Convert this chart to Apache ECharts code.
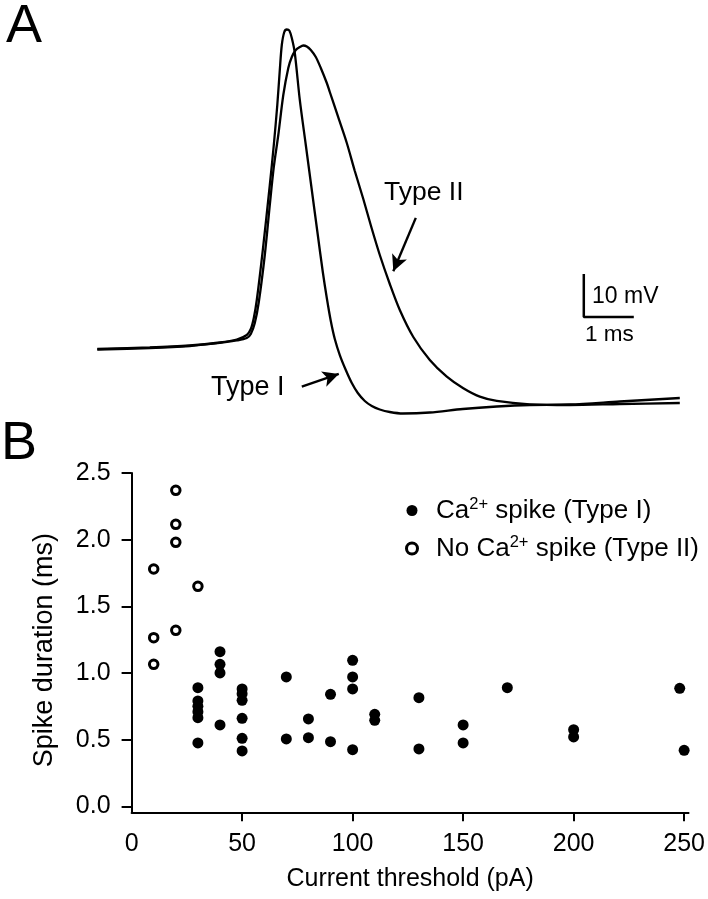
<!DOCTYPE html>
<html><head><meta charset="utf-8">
<script src="https://cdn.jsdelivr.net/npm/echarts@6/dist/echarts.min.js"></script>
<style>html,body{margin:0;padding:0;background:#fff}#c{width:708px;height:899px}</style>
</head><body><div id="c"></div>
<script>
// ---------- Panel A: spike waveforms (time in ms, membrane potential in mV) ----------
const typeITime = [0.00,1.05,1.85,2.45,2.79,2.99,3.07,3.13,3.19,3.31,3.45,3.53,3.60,3.65,3.69,3.74,3.79,3.84,3.89,3.95,4.05,4.17,4.29,4.41,4.51,4.59,4.67,4.75,4.85,4.97,5.09,5.21,5.35,5.49,5.65,5.85,6.11,6.65,7.31,7.99,8.65,9.45,10.45,11.65];
const typeIVolt = [-60.00,-59.65,-59.19,-58.49,-57.79,-56.74,-55.35,-52.79,-48.60,-36.98,-21.86,-12.56,-3.26,4.88,10.70,13.72,14.30,14.07,12.33,8.84,-2.09,-12.56,-23.02,-33.49,-42.09,-48.14,-53.49,-57.67,-61.40,-64.88,-67.91,-70.23,-72.09,-73.26,-74.07,-74.65,-75.00,-74.77,-73.95,-73.37,-73.02,-72.91,-72.21,-71.40];
const typeIITime = [0.00,1.05,1.85,2.45,2.79,2.99,3.07,3.15,3.23,3.35,3.45,3.53,3.62,3.72,3.82,3.89,3.97,4.05,4.12,4.19,4.27,4.37,4.47,4.59,4.65,4.81,4.99,5.15,5.32,5.48,5.65,5.85,6.05,6.32,6.65,6.99,7.32,7.65,7.99,8.65,9.45,10.45,11.65];
const typeIIVolt = [-60.12,-59.77,-59.30,-58.60,-58.02,-57.44,-56.51,-53.95,-49.07,-38.14,-26.51,-17.67,-10.23,-0.93,5.35,7.91,9.53,10.23,10.58,10.35,9.53,7.91,5.35,1.86,-0.23,-5.81,-12.09,-18.60,-25.12,-31.63,-38.14,-44.88,-50.93,-57.21,-62.56,-66.44,-69.14,-71.09,-72.09,-72.86,-73.02,-72.79,-72.56];
const scaleBarOrigin = [9.73, -52.56]; // ms, mV
const scaleBarMs = 1;
const scaleBarMv = 10;
const arrowTypeII = [[6.37, -29.5], [5.92, -41.9]];
const arrowTypeI = [[4.09, -68.77], [4.83, -65.81]];

// ---------- Panel B: spike duration vs current threshold ----------
const typeIThreshold = [30,30,30,30,30,30, 40,40,40,40, 50,50,50,50,50,50, 70,70, 80,80, 90,90, 100,100,100,100, 110,110, 130,130, 150,150, 170, 200,200, 248, 250];
const typeIDuration  = [0.89,0.79,0.75,0.71,0.665,0.475, 1.16,1.065,1.0,0.61, 0.88,0.845,0.795,0.66,0.51,0.415, 0.97,0.505, 0.655,0.515, 0.84,0.485, 1.095,0.97,0.88,0.425, 0.69,0.645, 0.815,0.43, 0.61,0.475, 0.89, 0.575,0.52, 0.885, 0.42];
const typeIIThreshold = [10,10,10,20,20,20,20,30];
const typeIIDuration  = [1.78,1.265,1.065,2.37,2.115,1.98,1.32,1.65];
const xTicks = [0,50,100,150,200,250];
const yTicks = [0,0.5,1.0,1.5,2.0,2.5];

const FONT = '"Liberation Sans", Arial, Helvetica, sans-serif';
const zip = (a, b) => a.map((v, i) => [v, b[i]]);

const chart = echarts.init(document.getElementById('c'), null, {renderer: 'canvas'});

const option = {
  backgroundColor: '#fff',
  animation: false,
  textStyle: {fontFamily: FONT, color: '#000'},
  grid: [
    {left: 97.3, top: 5, width: 600, height: 430},
    {left: 131.6, top: 473, width: 560.2, height: 339.3}
  ],
  xAxis: [
    {gridIndex: 0, type: 'value', min: 0, max: 12, show: false},
    {gridIndex: 1, type: 'value', min: 0, max: 252,
      axisLine: {show: true, onZero: false, lineStyle: {color: '#000', width: 2}},
      axisTick: {show: true, length: 9, lineStyle: {color: '#000', width: 2}, customValues: xTicks.slice(1)},
      axisLabel: {customValues: xTicks, fontSize: 25, color: '#000', margin: 19, fontFamily: FONT},
      splitLine: {show: false},
      name: 'Current threshold (pA)', nameLocation: 'middle', nameGap: 54,
      nameTextStyle: {fontSize: 25, color: '#000', fontFamily: FONT}
    }
  ],
  yAxis: [
    {gridIndex: 0, type: 'value', min: -80, max: 20, show: false},
    {gridIndex: 1, type: 'value', min: -0.045, max: 2.5,
      axisLine: {show: true, onZero: false, lineStyle: {color: '#000', width: 2}},
      axisTick: {show: true, length: 10, lineStyle: {color: '#000', width: 2}, customValues: yTicks},
      axisLabel: {customValues: yTicks, fontSize: 25, color: '#000', margin: 21, fontFamily: FONT,
        formatter: v => Number(v).toFixed(1)},
      splitLine: {show: false},
      name: 'Spike duration (ms)', nameLocation: 'middle', nameGap: 74, nameRotate: 90,
      nameTextStyle: {fontSize: 27, color: '#000', fontFamily: FONT, padding: [0, 15, 0, 0]}
    }
  ],
  legend: {
    left: 400, top: 491, orient: 'vertical', itemWidth: 38, itemHeight: 11, itemGap: 9,
    symbolKeepAspect: true,
    data: [
      {name: 'Ca2+ spike (Type I)'},
      {name: 'No Ca2+ spike (Type II)', itemStyle: {color: '#fff', borderColor: '#000', borderWidth: 3}}
    ],
    formatter: name => name.replace('2+', '{s|2+}'),
    textStyle: {fontSize: 26, lineHeight: 29, color: '#000', fontFamily: FONT,
      rich: {s: {fontSize: 16.5, lineHeight: 20, verticalAlign: 'top', color: '#000', fontFamily: FONT}}}
  },
  graphic: [
    {type: 'text', x: 6, y: 27, style: {text: 'A', fontSize: 54, fontFamily: FONT, fill: '#000', verticalAlign: 'middle'}},
    {type: 'text', x: 1, y: 444, style: {text: 'B', fontSize: 54, fontFamily: FONT, fill: '#000', verticalAlign: 'middle'}},
    {type: 'text', x: 384, y: 193, style: {text: 'Type II', fontSize: 26.5, fontFamily: FONT, fill: '#000', verticalAlign: 'middle'}},
    {type: 'text', x: 211, y: 388, style: {text: 'Type I', fontSize: 27, fontFamily: FONT, fill: '#000', verticalAlign: 'middle'}},
    {type: 'text', x: 592, y: 297, style: {text: '10 mV', fontSize: 23, fontFamily: FONT, fill: '#000', verticalAlign: 'middle'}},
    {type: 'text', x: 585, y: 335, style: {text: '1 ms', fontSize: 22.5, fontFamily: FONT, fill: '#000', verticalAlign: 'middle'}}
  ],
  series: [
    {type: 'line', name: 'Type I trace', xAxisIndex: 0, yAxisIndex: 0, data: zip(typeITime, typeIVolt),
      showSymbol: false, smooth: 0.3, lineStyle: {color: '#000', width: 2.3}, silent: true},
    {type: 'line', name: 'Type II trace', xAxisIndex: 0, yAxisIndex: 0, data: zip(typeIITime, typeIIVolt),
      showSymbol: false, smooth: 0.3, lineStyle: {color: '#000', width: 2.3}, silent: true},
    {type: 'line', name: 'scale bar', xAxisIndex: 0, yAxisIndex: 0,
      data: [[scaleBarOrigin[0], scaleBarOrigin[1] + scaleBarMv], scaleBarOrigin, [scaleBarOrigin[0] + scaleBarMs, scaleBarOrigin[1]]],
      showSymbol: false, lineStyle: {color: '#000', width: 2.5}, silent: true,
      markLine: {
        silent: true, symbol: ['none', 'arrow'], symbolSize: [12, 16],
        label: {show: false}, lineStyle: {color: '#000', width: 2.4, type: 'solid'},
        data: [
          [{coord: arrowTypeII[0]}, {coord: arrowTypeII[1]}],
          [{coord: arrowTypeI[0]}, {coord: arrowTypeI[1]}]
        ]
      }
    },
    {type: 'scatter', name: 'Ca2+ spike (Type I)', xAxisIndex: 1, yAxisIndex: 1,
      data: zip(typeIThreshold, typeIDuration), symbol: 'circle', symbolSize: 11,
      itemStyle: {color: '#000', opacity: 1}},
    {type: 'scatter', name: 'No Ca2+ spike (Type II)', xAxisIndex: 1, yAxisIndex: 1,
      data: zip(typeIIThreshold, typeIIDuration), symbol: 'circle', symbolSize: 8.5,
      itemStyle: {color: '#fff', borderColor: '#000', borderWidth: 3, opacity: 1}}
  ]
};
chart.setOption(option);
</script>
</body></html>
